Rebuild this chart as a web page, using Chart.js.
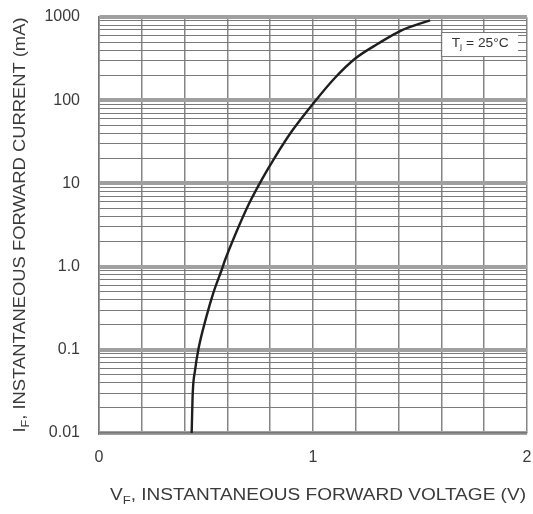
<!DOCTYPE html>
<html>
<head>
<meta charset="utf-8">
<script src="https://cdn.jsdelivr.net/npm/chart.js@4/dist/chart.umd.min.js"></script>
<style>
  html, body { margin: 0; padding: 0; background: #fff; }
  #wrap { width: 533px; height: 514px; position: relative; }
</style>
</head>
<body>
<div id="wrap"><canvas id="ivChart"></canvas></div>
<script>
// forward voltage (V) vs forward current (mA)
var voltage = [0.433, 0.438, 0.449, 0.464, 0.500, 0.534, 0.573, 0.589, 0.636, 0.698, 0.764, 0.822, 0.900, 1.005, 1.103, 1.196, 1.305, 1.414, 1.547];
var current = [0.01, 0.03, 0.057, 0.1, 0.24, 0.48, 0.91, 1.2, 2.4, 5.5, 11.5, 20.6, 42, 94, 186, 315, 480, 692, 912];

// axis ticks
var yDecades = [0.01, 0.1, 1, 10, 100, 1000];
var yDecadeLabels = ['0.01', '0.1', '1.0', '10', '100', '1000'];
var yMinorSteps = [2, 3, 4, 5, 6, 7, 8, 9];
var xTickValues = [0, 1, 2];
var xTickLabels = ['0', '1', '2'];

var xTitle = ['V', 'F', ', INSTANTANEOUS FORWARD VOLTAGE (V)'];
var yTitle = ['I', 'F', ', INSTANTANEOUS FORWARD CURRENT (mA)'];
var noteText = ['T', 'j', ' = 25°C'];

var FONT = '"Liberation Sans", Arial, sans-serif';
var TEXT_COLOR = '#3a3a3a';

// all grid values for the log axis: decades plus 2..9 multiples
var yGridValues = [];
yDecades.forEach(function (d, i) {
    yGridValues.push(d);
    if (i < yDecades.length - 1) {
        yMinorSteps.forEach(function (m) {
            yGridValues.push(Math.round(d * m * 1000) / 1000);
        });
    }
});

function isDecade(v) {
    return yDecades.some(function (d) { return Math.abs(v - d) < d * 1e-6; });
}

// draws "main + subscript + rest" starting at x (left aligned)
function subText(ctx, parts, x, y, size) {
    ctx.font = size + 'px ' + FONT;
    ctx.fillText(parts[0], x, y);
    x += ctx.measureText(parts[0]).width;
    ctx.font = Math.round(size * 0.7) + 'px ' + FONT;
    ctx.fillText(parts[1], x, y + size * 0.3);
    x += ctx.measureText(parts[1]).width;
    ctx.font = size + 'px ' + FONT;
    ctx.fillText(parts[2], x, y);
}

function subWidth(ctx, parts, size) {
    ctx.font = size + 'px ' + FONT;
    var w = ctx.measureText(parts[0]).width + ctx.measureText(parts[2]).width;
    ctx.font = Math.round(size * 0.7) + 'px ' + FONT;
    return w + ctx.measureText(parts[1]).width;
}

// centred at (cx, cy), stretched to a given width (the scan's lettering is wide)
function fitText(ctx, parts, cx, cy, size, width, angle) {
    var w = subWidth(ctx, parts, size);
    ctx.save();
    ctx.translate(cx, cy);
    if (angle) ctx.rotate(angle);
    ctx.scale(width / w, 1);
    subText(ctx, parts, -w / 2, 0, size);
    ctx.restore();
}

var whiteBg = {
    id: 'whiteBg',
    beforeDraw: function (chart) {
        var ctx = chart.ctx;
        ctx.save();
        ctx.fillStyle = '#fff';
        ctx.fillRect(0, 0, chart.width, chart.height);
        ctx.restore();
    }
};

var extras = {
    id: 'extras',
    afterDraw: function (chart) {
        var ctx = chart.ctx;
        var area = chart.chartArea;
        var xs = chart.scales.x, ys = chart.scales.y;
        ctx.save();
        ctx.fillStyle = TEXT_COLOR;
        ctx.textBaseline = 'middle';
        ctx.textAlign = 'left';

        // axis titles
        fitText(ctx, xTitle, 318, 496, 16, 416, 0);
        fitText(ctx, yTitle, 21, 225, 16, 415, -Math.PI / 2);

        // Tj note box
        var bx1 = xs.getPixelForValue(1.6), bx2 = area.right;
        var by1 = ys.getPixelForValue(660), by2 = ys.getPixelForValue(330);
        ctx.fillStyle = '#fff';
        ctx.fillRect(bx1 + 1, by1, bx2 - bx1 - 10, by2 - by1);
        ctx.strokeStyle = '#777';
        ctx.lineWidth = 1;
        ctx.beginPath();
        ctx.moveTo(bx2, by1 + 0.5);
        ctx.lineTo(bx1, by1 + 0.5);
        ctx.lineTo(bx1, by2 - 0.5);
        ctx.lineTo(bx2, by2 - 0.5);
        ctx.stroke();
        ctx.fillStyle = '#333';
        fitText(ctx, noteText, (bx1 + bx2) / 2 - 4, (by1 + by2) / 2 - 1, 12, 57, 0);
        ctx.restore();
    }
};

var ctx = document.getElementById('ivChart').getContext('2d');
var ivChart = new Chart(ctx, {
    type: 'line',
    data: {
        datasets: [{
            data: voltage.map(function (v, i) { return { x: v, y: current[i] }; }),
            borderColor: '#1e1e1e',
            borderWidth: 2.4,
            pointRadius: 0,
            fill: false,
            cubicInterpolationMode: 'monotone'
        }]
    },
    options: {
        responsive: true,
        maintainAspectRatio: false,
        animation: false,
        layout: { padding: { top: 17, right: 6, left: 0, bottom: 0 } },
        plugins: {
            legend: { display: false },
            tooltip: { enabled: false }
        },
        scales: {
            x: {
                type: 'linear',
                min: 0,
                max: 2,
                afterFit: function (scale) {
                    scale.height = 81;
                    scale.paddingLeft = 0;
                    scale.paddingRight = 0;
                },
                grid: {
                    color: '#858585',
                    lineWidth: 1.5,
                    drawTicks: false
                },
                border: { color: '#777', width: 1.5 },
                ticks: {
                    stepSize: 0.2,
                    autoSkip: false,
                    maxRotation: 0,
                    padding: 15,
                    color: TEXT_COLOR,
                    font: { family: FONT, size: 16 },
                    callback: function (value) {
                        var i = xTickValues.indexOf(Math.round(value * 1000) / 1000);
                        return i >= 0 ? xTickLabels[i] : '';
                    }
                }
            },
            y: {
                type: 'logarithmic',
                min: 0.01,
                max: 1000,
                afterFit: function (scale) {
                    scale.width = 99;
                    scale.paddingTop = 0;
                    scale.paddingBottom = 0;
                },
                afterBuildTicks: function (scale) {
                    scale.ticks = yGridValues.map(function (v) { return { value: v, major: false }; });
                },
                grid: {
                    drawTicks: false,
                    color: function (c) {
                        return c.tick && isDecade(c.tick.value) ? '#a0a0a0' : '#7a7a7a';
                    },
                    lineWidth: function (c) {
                        return c.tick && isDecade(c.tick.value) ? 4 : 1;
                    }
                },
                border: { color: '#777', width: 1.5 },
                ticks: {
                    autoSkip: false,
                    padding: 19,
                    color: TEXT_COLOR,
                    font: { family: FONT, size: 16 },
                    callback: function (value) {
                        for (var i = 0; i < yDecades.length; i++) {
                            if (Math.abs(value - yDecades[i]) < yDecades[i] * 1e-6) return yDecadeLabels[i];
                        }
                        return '';
                    }
                }
            }
        }
    },
    plugins: [whiteBg, extras]
});
</script>
</body>
</html>
